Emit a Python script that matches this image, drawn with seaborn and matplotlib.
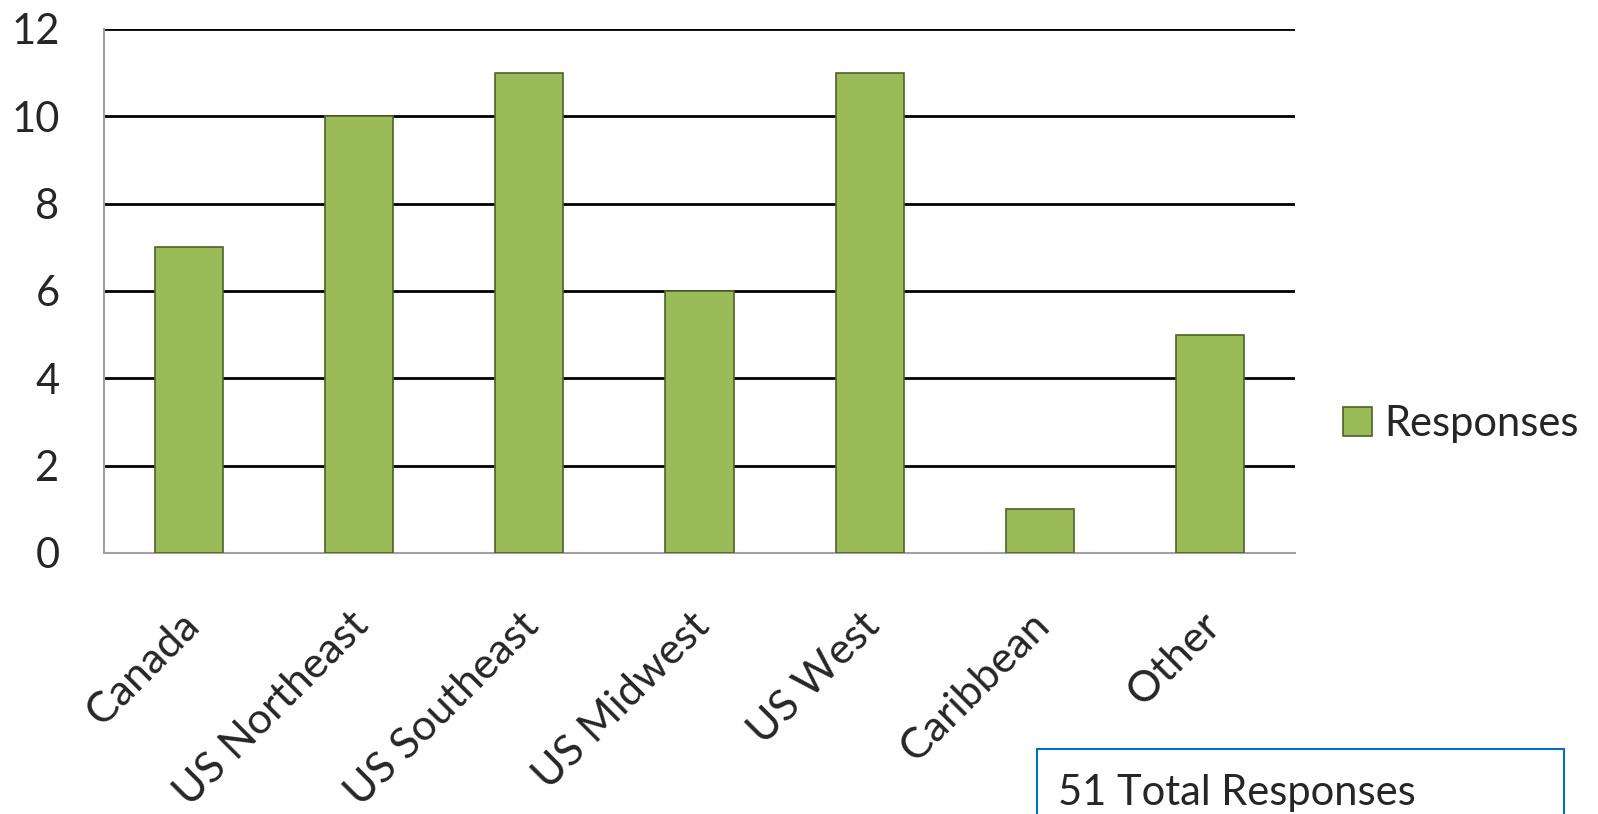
import pandas as pd
import seaborn as sns
import matplotlib.pyplot as plt
import matplotlib.patches as mpatches
import matplotlib.transforms as mtransforms

regions = ['Canada', 'US Northeast', 'US Southeast', 'US Midwest', 'US West', 'Caribbean', 'Other']
responses = [7, 10, 11, 6, 11, 1, 5]
y_ticks = [0, 2, 4, 6, 8, 10, 12]
series_name = 'Responses'
total_note = '51 Total Responses'

bar_fill = '#9BBB59'
bar_edge = '#4F6228'

df = pd.DataFrame({'region': regions, 'count': responses})

sns.set_style('white')
plt.rcParams['font.family'] = ['Lato', 'DejaVu Sans']

W, H = 1598, 814
fig = plt.figure(figsize=(W / 100, H / 100), dpi=100)
ax = fig.add_axes([104 / W, 1 - 553 / H, (1295 - 104) / W, (553 - 29) / H])

sns.barplot(data=df, x='region', y='count', color=bar_fill, width=0.4,
            edgecolor=bar_edge, linewidth=1.2, saturation=1, ax=ax, zorder=3)

ax.set_ylim(0, 12)
ax.set_xlim(-0.5, len(regions) - 0.5)
ax.set_yticks(y_ticks)
ax.set_yticklabels([str(t) for t in y_ticks], fontsize=30)
ax.set_xlabel('')
ax.set_ylabel('')
for t in y_ticks[1:]:
    ax.axhline(t, color='black', linewidth=2, zorder=1)

ax.set_xticks(range(len(regions)))
ax.set_xticklabels(regions, fontsize=31, rotation=45, ha='right',
                   rotation_mode='anchor')
ax.tick_params(axis='x', length=0, pad=38)
ax.tick_params(axis='y', length=0, pad=32)
# nudge rotated labels a little to the left
shift = mtransforms.ScaledTranslation(-0.1, 0, fig.dpi_scale_trans)
for lbl in ax.get_xticklabels():
    lbl.set_transform(lbl.get_transform() + shift)

for side in ['top', 'right']:
    ax.spines[side].set_visible(False)
for side in ['left', 'bottom']:
    ax.spines[side].set_color('#A0A0A0')
    ax.spines[side].set_linewidth(1.5)

handle = mpatches.Patch(facecolor=bar_fill, edgecolor=bar_edge, linewidth=1.2)
fig.legend(handles=[handle], labels=[series_name], loc='center left',
           bbox_to_anchor=(1343 / W, 1 - 424 / H), frameon=False, fontsize=30,
           handlelength=0.7, handleheight=0.7, handletextpad=0.3,
           borderpad=0, borderaxespad=0)

box = mpatches.Rectangle((1037 / W, -0.05), (1564 - 1037) / W, 0.05 + (814 - 749) / H,
                         transform=fig.transFigure, facecolor='white',
                         edgecolor='#0070C0', linewidth=1.5, clip_on=False)
fig.patches.append(box)
fig.text(1058 / W, 1 - 805 / H, total_note, fontsize=30, ha='left', va='baseline')

fig.savefig('out.png', dpi=100)
